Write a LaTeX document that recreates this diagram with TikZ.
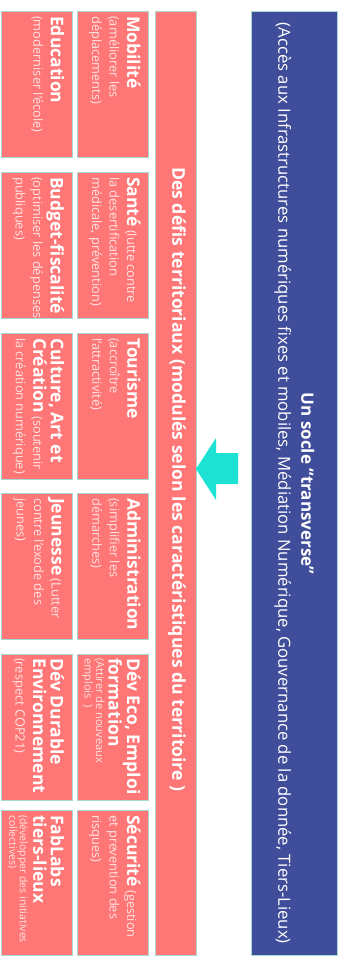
\documentclass[tikz,border=0pt]{standalone}
\usepackage{fontspec}
\setmainfont{Open Sans}
\definecolor{boxred}{HTML}{FF7676}
\definecolor{socleblue}{HTML}{404D9B}
\definecolor{edgec}{HTML}{A6D9D2}
\definecolor{arrowc}{HTML}{1EE3D4}
\definecolor{subtxt}{HTML}{FFE4E4}
\newcommand\tileTitle[1]{{\color{white}\bfseries\fontsize{17.5}{17.5}\selectfont #1}}
\newcommand\tinySub{\fontsize{11}{11}\selectfont}
\begin{document}
\begin{tikzpicture}[x=1pt,y=-1pt,
  tile/.style={draw=edgec, line width=0.8pt, fill=boxred, anchor=north west,
    minimum width=71pt, minimum height=146pt, inner sep=0pt},
  lbl/.style={rotate=-90, anchor=north west, align=left, inner sep=0pt,
    text=subtxt, font=\fontsize{12.8}{17.5}\selectfont},
  ]
\useasboundingbox (0,0) rectangle (343,966);
% socle
\node[draw=edgec, line width=0.8pt, fill=socleblue, anchor=north west,
  minimum width=86pt, minimum height=944pt, inner sep=0pt] (socle) at (251,11) {};
\node[rotate=-90, align=center, text=white, inner sep=0pt,
  font=\fontsize{16.7}{23}\selectfont] (socletxt) at (socle.center)
  {{\bfseries\fontsize{17}{23}\selectfont Un socle “transverse”}\\
   (Accès aux Infrastructures numériques fixes et mobiles, Médiation Numérique, Gouvernance de la donnée, Tiers-Lieux)};
% defis band
\node[draw=edgec, line width=0.8pt, fill=boxred, anchor=north west,
  minimum width=41pt, minimum height=944pt, inner sep=0pt] (defis) at (155,11) {};
\node[rotate=-90, text=white, inner sep=0pt, font=\bfseries\fontsize{17.6}{20}\selectfont]
  (defistxt) at ([xshift=1pt,yshift=4pt]defis.center)
  {Des défis territoriaux (modulés selon les caractéristiques du territoire )};
% arrow
\fill[arrowc] (238,453) -- (216,453) -- (216,438) -- (196,469) -- (216,500) -- (216,484) -- (238,484) -- cycle;
% tiles column 1
\node[tile] (a1) at (77,11) {};
\node[tile] (a2) at (77,172) {};
\node[tile] (a3) at (77,333) {};
\node[tile] (a4) at (77,493) {};
\node[tile] (a5) at (77,654) {};
\node[tile, minimum height=145pt] (a6) at (77,810) {};
% tiles column 2
\node[tile] (b1) at (0.5,11) {};
\node[tile] (b2) at (0.5,172) {};
\node[tile] (b3) at (0.5,333) {};
\node[tile] (b4) at (0.5,493) {};
\node[tile] (b5) at (0.5,654) {};
\node[tile, minimum height=145pt] (b6) at (0.5,810) {};
% labels
\node[lbl] (ta1) at ([xshift=-8pt,yshift=-5pt]a1.north east)
  {\tileTitle{Mobilité}\\(améliorer les\\déplacements)};
\node[lbl] (ta2) at ([xshift=-8pt,yshift=-5pt]a2.north east)
  {\tileTitle{Santé} (lutte contre\\la desertification\\médicale, prévention)};
\node[lbl] (ta3) at ([xshift=-8pt,yshift=-5pt]a3.north east)
  {\tileTitle{Tourisme}\\(accroître\\l’attractivité)};
\node[lbl] (ta4) at ([xshift=-8pt,yshift=-5pt]a4.north east)
  {\tileTitle{Administration}\\(simplifier les\\démarches)};
\node[lbl] (ta5) at ([xshift=-8pt,yshift=-4pt]a5.north east)
  {\tileTitle{Dév Eco, Emploi}\\\tileTitle{formation}\\[-5pt]{\tinySub (Attirer de nouveaux}\\[-6pt]{\tinySub emplois\ \ )}};
\node[lbl] (ta6) at ([xshift=-8pt,yshift=-5pt]a6.north east)
  {\tileTitle{Sécurité} (gestion\\et prevention des\\risques)};
\node[lbl] (tb1) at ([xshift=-8pt,yshift=-5pt]b1.north east)
  {\tileTitle{Education}\\(moderniser l’école)};
\node[lbl] (tb2) at ([xshift=-8pt,yshift=-5pt]b2.north east)
  {\tileTitle{Budget-fiscalité}\\(optimiser les dépenses\\publiques)};
\node[lbl] (tb3) at ([xshift=-8pt,yshift=-5pt]b3.north east)
  {\tileTitle{Culture, Art et}\\\tileTitle{Création} (soutenir\\la création numérique)};
\node[lbl] (tb4) at ([xshift=-8pt,yshift=-5pt]b4.north east)
  {\tileTitle{Jeunesse} (Lutter\\contre l’exode des\\jeunes)};
\node[lbl] (tb5) at ([xshift=-8pt,yshift=-4pt]b5.north east)
  {\tileTitle{Dév Durable}\\\tileTitle{Environnement}\\(respect COP21)};
\node[lbl] (tb6) at ([xshift=-8pt,yshift=-5pt]b6.north east)
  {\tileTitle{FabLabs}\\\tileTitle{tiers-lieux}\\[-4pt]{\fontsize{10.5}{10.5}\selectfont (développer des initiatives}\\[-7pt]{\fontsize{10.5}{10.5}\selectfont collectives)}};
\end{tikzpicture}
\end{document}
